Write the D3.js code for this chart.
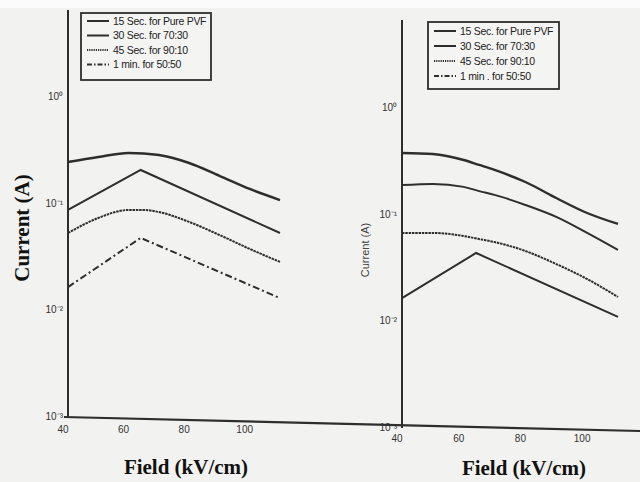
<!DOCTYPE html>
<html><head><meta charset="utf-8">
<script src="https://cdn.jsdelivr.net/npm/d3@7"></script>
<style>
body{margin:0;background:#fff;}
svg{display:block;}
</style></head>
<body>
<svg id="chart" width="640" height="482"></svg>
<script>
// ---- data ----
const fieldSmooth = [40, 50, 60, 65, 70, 80, 90, 100, 110];
const fieldPeak = [40, 64, 110];
const seriesNames = ["15 Sec. for Pure PVF", "30 Sec. for 70:30", "45 Sec. for 90:10", "1 min. for 50:50"];
const seriesNamesRight = ["15 Sec. for Pure PVF", "30 Sec. for 70:30", "45 Sec. for 90:10", "1 min . for 50:50"];
// left panel
const leftPure = [0.245, 0.273, 0.298, 0.295, 0.285, 0.240, 0.182, 0.137, 0.108];
const left7030 = [0.0871, 0.2065, 0.0530];          // at fieldPeak
const left9010 = [0.053, 0.0733, 0.0871, 0.0871, 0.0833, 0.0673, 0.0508, 0.0376, 0.0284];
const left5050 = [0.0165, 0.0477, 0.0130];          // at fieldPeak
// right panel
const rightPure = [0.378, 0.370, 0.325, 0.292, 0.262, 0.202, 0.143, 0.1035, 0.0817];
const right7030 = [0.189, 0.194, 0.182, 0.166, 0.153, 0.123, 0.0951, 0.0673, 0.0466];
const right9010 = [0.0673, 0.0673, 0.0630, 0.059, 0.0553, 0.0456, 0.0344, 0.0249, 0.0169];
const right5050 = [0.0165, 0.0437, 0.0110];         // at fieldPeak
const xTicks = [40, 60, 80, 100];
const yTicks = [1, 0.1, 0.01, 0.001];
const yTickLabels = ["10\u2070", "10\u207B\u00B9", "10\u207B\u00B2", "10\u207B\u00B3"];

const svg = d3.select("#chart");
const ink = "#2e2e2e";

// background (scanned page)
svg.append("rect").attr("width", 640).attr("height", 482).attr("fill", "#f2f2f0");
svg.append("rect").attr("width", 640).attr("height", 8).attr("fill", "#fbfbfb");

function panel(cfg) {
  const x = d3.scaleLinear().domain([40, 110]).range(cfg.xr);
  const y = d3.scaleLog().domain(cfg.yd).range(cfg.yr);
  const g = svg.append("g");

  // y axis line
  g.append("line").attr("x1", x(40)).attr("x2", x(40))
    .attr("y1", cfg.yr[1]).attr("y2", y(0.001))
    .attr("stroke", ink).attr("stroke-width", 2);

  // y tick labels
  g.selectAll(".yt").data(yTicks).join("text")
    .attr("x", x(40) - 5).attr("y", d => y(d) + 3)
    .attr("text-anchor", "end")
    .attr("font-family", "Liberation Sans Narrow, Liberation Sans, sans-serif")
    .attr("font-size", 10).attr("fill", "#333")
    .text((d, i) => yTickLabels[i]);

  // x tick labels
  g.selectAll(".xt").data(xTicks).join("text")
    .attr("x", d => x(d) - 5).attr("y", y(0.001) + cfg.xlabDy)
    .attr("text-anchor", "middle")
    .attr("font-family", "Liberation Sans Narrow, Liberation Sans, sans-serif")
    .attr("font-size", 10).attr("fill", "#333")
    .text(d => d);

  const smooth = d3.line().x(d => x(d[0])).y(d => y(d[1])).curve(d3.curveMonotoneX);
  const straight = d3.line().x(d => x(d[0])).y(d => y(d[1]));

  cfg.series.forEach(s => {
    const pts = s.fx.map((f, i) => [f, s.v[i]]);
    g.append("path").attr("d", (s.smooth ? smooth : straight)(pts))
      .attr("fill", "none").attr("stroke", ink)
      .attr("stroke-width", s.w)
      .attr("stroke-dasharray", s.dash || null);
  });

  // legend
  const lg = g.append("g");
  lg.append("rect").attr("x", cfg.leg[0]).attr("y", cfg.leg[1])
    .attr("width", cfg.leg[2]).attr("height", cfg.leg[3])
    .attr("fill", "#f4f4f2").attr("stroke", ink).attr("stroke-width", 1.8);
  const dashes = [null, null, "1.2,1", "5,2,1.5,2"];
  cfg.names.forEach((n, i) => {
    const yy = cfg.leg[1] + cfg.rowTop + i * cfg.rowStep;
    lg.append("line").attr("x1", cfg.leg[0] + 6).attr("x2", cfg.leg[0] + 28)
      .attr("y1", yy).attr("y2", yy).attr("stroke", ink).attr("stroke-width", 2)
      .attr("stroke-dasharray", dashes[i]);
    lg.append("text").attr("x", cfg.leg[0] + 32).attr("y", yy + 3.5)
      .attr("font-family", "Liberation Sans Narrow, Liberation Sans, sans-serif")
      .attr("font-size", 10.5).attr("fill", "#222").attr("letter-spacing", -0.3)
      .text(n);
  });
  return {x, y};
}

const L = panel({
  xr: [68, 280], yd: [0.001, Math.pow(10, 0.814)], yr: [417, 10], xlabDy: 16,
  leg: [81, 13, 130, 67], rowTop: 8, rowStep: 14.5, names: seriesNames,
  series: [
    {fx: fieldSmooth, v: leftPure, smooth: true, w: 2.4},
    {fx: fieldPeak, v: left7030, smooth: false, w: 2},
    {fx: fieldSmooth, v: left9010, smooth: true, w: 2, dash: "2.5,0.8"},
    {fx: fieldPeak, v: left5050, smooth: false, w: 2, dash: "7,3,2,3"}
  ]
});
const R = panel({
  xr: [402, 618], yd: [0.001, Math.pow(10, 0.824)], yr: [428, 20], xlabDy: 14,
  leg: [428, 22, 131, 67], rowTop: 9, rowStep: 15, names: seriesNamesRight,
  series: [
    {fx: fieldSmooth, v: rightPure, smooth: true, w: 2.4},
    {fx: fieldSmooth, v: right7030, smooth: true, w: 2},
    {fx: fieldSmooth, v: right9010, smooth: true, w: 2, dash: "2.5,0.8"},
    {fx: fieldPeak, v: right5050, smooth: false, w: 2}
  ]
});

// shared bottom (x) axis line, slightly tilted as on the scan
svg.append("line")
  .attr("x1", L.x(40) - 4).attr("y1", L.y(0.001))
  .attr("x2", 640).attr("y2", R.y(0.001) + 3)
  .attr("stroke", ink).attr("stroke-width", 2.2);

// axis titles
svg.append("text").attr("transform", "translate(29,228) rotate(-90)")
  .attr("text-anchor", "middle").attr("font-family", "Liberation Serif, serif")
  .attr("font-weight", "bold").attr("font-size", 21).attr("fill", "#111")
  .text("Current (A)");
svg.append("text").attr("x", 186).attr("y", 474)
  .attr("text-anchor", "middle").attr("font-family", "Liberation Serif, serif")
  .attr("font-weight", "bold").attr("font-size", 21).attr("fill", "#111")
  .text("Field (kV/cm)");
svg.append("text").attr("x", 524).attr("y", 475)
  .attr("text-anchor", "middle").attr("font-family", "Liberation Serif, serif")
  .attr("font-weight", "bold").attr("font-size", 21).attr("fill", "#111")
  .text("Field (kV/cm)");
svg.append("text").attr("transform", "translate(369,250) rotate(-90)")
  .attr("text-anchor", "middle").attr("font-family", "Liberation Sans, sans-serif")
  .attr("font-size", 11).attr("fill", "#444")
  .text("Current (A)");
</script>
</body></html>
